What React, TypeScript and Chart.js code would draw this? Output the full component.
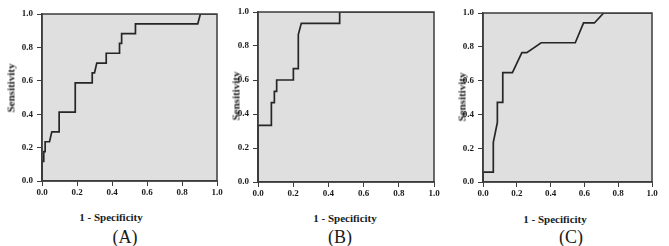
import React, { useEffect, useRef } from "react";
import { Chart, registerables } from "chart.js";

Chart.register(...registerables);

// ---- data ----
const panelLabels = ["(A)", "(B)", "(C)"];
const xAxisTitle = "1 - Specificity";
const yAxisTitle = "Sensitivity";

// Panel A ROC curve (1 - specificity, sensitivity)
const fprA = [0, 0, 0.01, 0.01, 0.018, 0.018, 0.043, 0.056, 0.098, 0.098, 0.19, 0.19, 0.287, 0.287, 0.3, 0.313, 0.367, 0.367, 0.443, 0.443, 0.452, 0.455, 0.534, 0.534, 0.89, 0.905, 1];
const tprA = [0, 0.118, 0.118, 0.176, 0.176, 0.235, 0.235, 0.294, 0.294, 0.412, 0.412, 0.588, 0.588, 0.647, 0.647, 0.706, 0.706, 0.765, 0.765, 0.824, 0.824, 0.882, 0.882, 0.941, 0.941, 1, 1];

// Panel B ROC curve
const fprB = [0, 0, 0.076, 0.076, 0.093, 0.093, 0.106, 0.106, 0.201, 0.201, 0.229, 0.229, 0.246, 0.464, 0.464, 1];
const tprB = [0, 0.333, 0.333, 0.467, 0.467, 0.533, 0.533, 0.6, 0.6, 0.667, 0.667, 0.867, 0.933, 0.933, 1, 1];

// Panel C ROC curve
const fprC = [0, 0, 0.061, 0.061, 0.085, 0.085, 0.117, 0.117, 0.174, 0.23, 0.259, 0.344, 0.546, 0.595, 0.659, 0.714, 1];
const tprC = [0, 0.059, 0.059, 0.235, 0.353, 0.471, 0.471, 0.647, 0.647, 0.765, 0.765, 0.824, 0.824, 0.941, 0.941, 1, 1];

const FONT = '"Liberation Serif", "Times New Roman", serif';
const TEXT = "#1a1a1a";
const FRAME = "#3c3c3c";
const CURVE = "#262626";
const PLOT_BG = "#dfdfdf";

type Layout = {
  left: number;
  width: number;
  height: number;
  padTop: number;
  padRight: number;
  yAxisWidth: number;
  xAxisHeight: number;
  yTitleX: number;
  yTitleY: number;
  xTitleX: number;
  xTitleY: number;
  labelX: number;
  labelY: number;
};

const layouts: Layout[] = [
  { left: 0, width: 225, height: 200, padTop: 14, padRight: 8, yAxisWidth: 42, xAxisHeight: 19, yTitleX: 11, yTitleY: 88, xTitleX: 111, xTitleY: 217, labelX: 125, labelY: 237 },
  { left: 225, width: 220, height: 200, padTop: 12, padRight: 11, yAxisWidth: 33, xAxisHeight: 18, yTitleX: 235.5, yTitleY: 96, xTitleX: 345, xTitleY: 218, labelX: 340, labelY: 237 },
  { left: 445, width: 224, height: 200, padTop: 13, padRight: 17, yAxisWidth: 38, xAxisHeight: 18, yTitleX: 462, yTitleY: 97, xTitleX: 555, xTitleY: 219, labelX: 571, labelY: 237 },
];

const series = [
  { xs: fprA, ys: tprA },
  { xs: fprB, ys: tprB },
  { xs: fprC, ys: tprC },
];

const plotFrame = {
  id: "plotFrame",
  beforeDraw(chart: any) {
    const { ctx, chartArea } = chart;
    ctx.save();
    ctx.fillStyle = PLOT_BG;
    ctx.fillRect(chartArea.left, chartArea.top, chartArea.right - chartArea.left, chartArea.bottom - chartArea.top);
    ctx.restore();
  },
  afterDraw(chart: any) {
    const { ctx, chartArea } = chart;
    ctx.save();
    ctx.strokeStyle = FRAME;
    ctx.lineWidth = 1.5;
    ctx.strokeRect(chartArea.left, chartArea.top, chartArea.right - chartArea.left, chartArea.bottom - chartArea.top);
    ctx.restore();
  },
};

function tickFmt(v: any) {
  return Number(v).toFixed(1);
}

function Panel({ idx }: { idx: number }) {
  const ref = useRef<HTMLCanvasElement | null>(null);
  const L = layouts[idx];
  const s = series[idx];

  useEffect(() => {
    if (!ref.current) return;
    const tickFont = { family: FONT, size: 9, weight: "bold" as const };
    const chart = new Chart(ref.current, {
      type: "scatter",
      data: {
        datasets: [
          {
            data: s.xs.map((x, i) => ({ x, y: s.ys[i] })),
            showLine: true,
            borderColor: CURVE,
            borderWidth: 1.7,
            pointRadius: 0,
            pointHoverRadius: 0,
            fill: false,
            tension: 0,
          },
        ],
      },
      options: {
        animation: false,
        responsive: false,
        maintainAspectRatio: false,
        events: [],
        layout: { padding: { left: 0, top: L.padTop, right: L.padRight, bottom: 0 } },
        plugins: { legend: { display: false }, tooltip: { enabled: false } },
        scales: {
          x: {
            type: "linear",
            min: 0,
            max: 1,
            afterFit: (sc: any) => {
              sc.height = L.xAxisHeight;
            },
            ticks: { stepSize: 0.2, callback: tickFmt, font: tickFont, color: TEXT, padding: 1, maxRotation: 0, autoSkip: false },
            grid: { drawOnChartArea: false, drawTicks: true, tickLength: 5, color: FRAME, lineWidth: 1 },
            border: { display: true, color: FRAME, width: 1.5 },
          },
          y: {
            type: "linear",
            min: 0,
            max: 1,
            afterFit: (sc: any) => {
              sc.width = L.yAxisWidth;
            },
            ticks: { stepSize: 0.2, callback: tickFmt, font: tickFont, color: TEXT, padding: 4, autoSkip: false },
            grid: { drawOnChartArea: false, drawTicks: true, tickLength: 5, color: FRAME, lineWidth: 1 },
            border: { display: true, color: FRAME, width: 1.5 },
            title: { display: false },
          },
        },
      },
      plugins: [plotFrame],
    } as any);
    return () => chart.destroy();
  }, [idx]);

  return (
    <canvas
      ref={ref}
      width={L.width}
      height={L.height}
      style={{ position: "absolute", left: L.left, top: 0, width: L.width, height: L.height }}
    />
  );
}

const centered: React.CSSProperties = {
  position: "absolute",
  whiteSpace: "nowrap",
  lineHeight: 1,
  fontFamily: FONT,
  color: TEXT,
};

export default function App() {
  return (
    <div style={{ position: "absolute", left: 0, top: 0, width: 669, height: 246, background: "#ffffff", overflow: "hidden" }}>
      {layouts.map((L, i) => (
        <Panel key={"p" + i} idx={i} />
      ))}
      {layouts.map((L, i) => (
        <div
          key={"yt" + i}
          style={{ ...centered, left: L.yTitleX, top: L.yTitleY, fontSize: 11, fontWeight: "bold", transform: "translate(-50%, -50%) rotate(-90deg)" }}
        >
          {yAxisTitle}
        </div>
      ))}
      {layouts.map((L, i) => (
        <div key={"xt" + i} style={{ ...centered, left: L.xTitleX, top: L.xTitleY, fontSize: 11, fontWeight: "bold", transform: "translate(-50%, -50%)" }}>
          {xAxisTitle}
        </div>
      ))}
      {layouts.map((L, i) => (
        <div key={"lb" + i} style={{ ...centered, left: L.labelX, top: L.labelY, fontSize: 18, fontWeight: "normal", transform: "translate(-50%, -50%)" }}>
          {panelLabels[i]}
        </div>
      ))}
    </div>
  );
}
